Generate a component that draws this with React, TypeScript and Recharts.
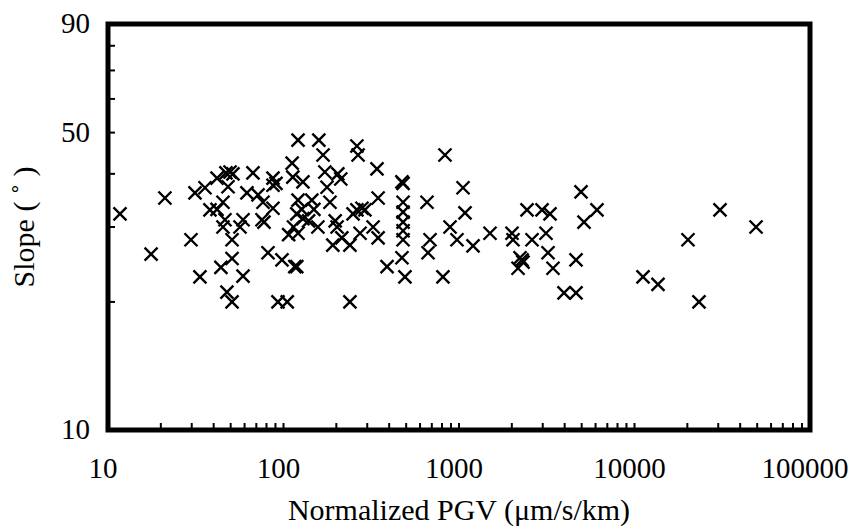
import { ReferenceArea, Scatter, ScatterChart, XAxis, YAxis } from "recharts";

// Slope vs normalized PGV, log–log, black "×" markers in a heavy frame.

const FONT = "'Liberation Serif', 'Times New Roman', Times, serif";

// normalized PGV (µm/s/km)
const pgv = [
  11.7, 17.6, 21.1, 29.7, 31.3, 33.4, 35.7, 38.1, 41.8, 45.2,
  41.8, 47.0, 49.6, 51.5, 67.0, 48.3, 61.9, 71.6, 76.4, 87.1,
  87.1, 87.1, 90.6, 46.4, 45.2, 58.8, 56.5, 75.4, 77.4, 50.9,
  107, 81.6, 98.0, 50.9, 44.0, 58.8, 47.6, 50.9, 93.0, 105,
  121, 159, 262, 266, 168, 112, 113, 129, 172, 204,
  177, 212, 121, 145, 127, 149, 119, 129, 139, 157,
  114, 121, 184, 197, 202, 215, 191, 239, 262, 280,
  249, 273, 291, 116, 119, 239, 324, 341, 346, 346,
  389, 473, 480, 480, 480, 480, 480, 480, 473, 492,
  657, 684, 666, 810, 832, 889, 974, 1054, 1082, 1202,
  1502, 2004, 2031, 2606, 3131, 2441, 2972, 3300, 4957, 6113,
  5155, 2226, 2286, 2316, 2169, 3215, 3432, 4642, 3966, 4642,
  30700, 49260, 20170, 11180, 13610, 23300,
];

// slope (degrees)
const slope = [
  32.2, 25.9, 35.1, 28.0, 36.1, 22.9, 37.1, 32.9, 33.0, 34.3,
  39.1, 40.2, 40.4, 40.0, 40.2, 37.3, 36.1, 35.7, 34.3, 33.2,
  39.1, 37.6, 38.0, 31.2, 30.0, 31.2, 30.0, 31.2, 30.8, 28.0,
  28.8, 26.1, 25.1, 25.3, 24.1, 23.0, 21.1, 20.0, 20.0, 20.0,
  48.0, 48.0, 46.5, 44.3, 44.3, 42.4, 39.3, 38.3, 40.4, 40.0,
  37.2, 38.9, 34.7, 34.7, 33.0, 33.0, 32.2, 31.4, 31.0, 30.0,
  30.0, 29.0, 34.3, 31.0, 30.0, 28.3, 27.2, 27.2, 32.9, 33.2,
  32.2, 29.0, 32.9, 24.2, 24.2, 20.0, 30.0, 41.1, 35.1, 28.3,
  24.2, 38.3, 38.0, 34.3, 32.5, 30.8, 29.4, 28.0, 25.4, 22.9,
  34.3, 28.0, 26.1, 22.9, 44.3, 30.0, 28.0, 37.1, 32.4, 27.1,
  29.0, 29.0, 28.0, 28.0, 29.0, 32.9, 32.9, 32.2, 36.3, 32.9,
  30.8, 25.4, 25.1, 24.8, 24.0, 26.1, 24.0, 25.1, 21.0, 21.0,
  32.9, 30.0, 28.0, 22.9, 22.0, 20.0,
];

const xLabels = [10, 100, 1000, 10000, 100000];
const yLabels = [10, 50, 90];
const yTicks = [10, 20, 30, 40, 50, 60, 70, 80, 90];
// minor ticks 2..9 inside every decade
const xTicks = [10, 100, 1000, 10000]
  .flatMap((d) => [1, 2, 3, 4, 5, 6, 7, 8, 9].map((m) => m * d))
  .concat(100000);

const data = pgv.map((x, i) => ({ x, y: slope[i] }));

const FS = 30; // axis titles
const TS = 29; // tick labels

function XTick({ x, y, payload }: any) {
  const v = payload.value;
  const edge = v === 10 || v === 100000;
  return (
    <g>
      {!edge && <line x1={x} x2={x} y1={y} y2={y - 7} stroke="#000" strokeWidth={2} />}
      {xLabels.includes(v) && (
        <text x={x} y={y + 48} dx={-5} textAnchor="middle" fontSize={TS} fontFamily={FONT} fill="#000">
          {v}
        </text>
      )}
    </g>
  );
}

function YTick({ x, y, payload }: any) {
  const v = payload.value;
  const edge = v === 10 || v === 90;
  return (
    <g>
      {!edge && <line x1={x} x2={x + 7} y1={y} y2={y} stroke="#000" strokeWidth={2} />}
      {yLabels.includes(v) && (
        <text x={x - 18} y={y} dy="0.32em" textAnchor="end" fontSize={TS} fontFamily={FONT} fill="#000">
          {v}
        </text>
      )}
    </g>
  );
}

const Cross = ({ cx, cy }: any) => (
  <path
    d={`M${cx - 6.5},${cy - 6.5}L${cx + 6.5},${cy + 6.5}M${cx - 6.5},${cy + 6.5}L${cx + 6.5},${cy - 6.5}`}
    stroke="#000"
    strokeWidth={2.4}
    fill="none"
  />
);

export default function App() {
  return (
    <div style={{ position: "absolute", left: 0, top: 0, width: 853, height: 526, background: "#fff" }}>
      <ScatterChart width={853} height={526} margin={{ top: 24, right: 43, bottom: 0, left: 0 }}>
        <XAxis
          type="number"
          dataKey="x"
          scale="log"
          domain={[10, 100000]}
          allowDataOverflow
          ticks={xTicks}
          interval={0}
          height={96}
          tickSize={0}
          tickMargin={0}
          axisLine={false}
          tickLine={false}
          tick={<XTick />}
          label={{
            value: "Normalized PGV (μm/s/km)",
            position: "insideBottom",
            offset: 6,
            style: { fontSize: FS, fontFamily: FONT, fill: "#000" },
          }}
        />
        <YAxis
          type="number"
          dataKey="y"
          scale="log"
          domain={[10, 90]}
          allowDataOverflow
          ticks={yTicks}
          interval={0}
          width={108}
          tickSize={0}
          tickMargin={0}
          axisLine={false}
          tickLine={false}
          tick={<YTick />}
          label={{
            value: "Slope ( ˚ )",
            angle: -90,
            position: "insideLeft",
            offset: 23,
            style: { fontSize: FS, fontFamily: FONT, fill: "#000", textAnchor: "middle" },
          }}
        />
        <ReferenceArea x1={10} x2={100000} y1={10} y2={90} fill="none" stroke="#000" strokeWidth={5} />
        <Scatter data={data} shape={<Cross />} isAnimationActive={false} />
      </ScatterChart>
    </div>
  );
}
